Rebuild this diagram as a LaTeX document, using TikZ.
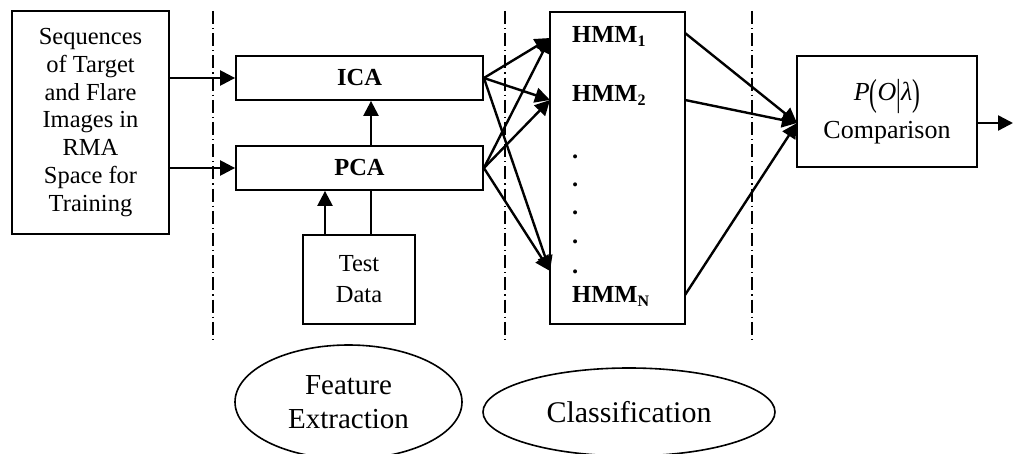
\documentclass[tikz,border=0pt]{standalone}
\usepackage{fontspec}
\setmainfont{Liberation Serif}
\usetikzlibrary{arrows.meta,shapes.geometric}
% lowered index for HMM labels
\newcommand\hmmidx[1]{\raisebox{-4pt}{\fontsize{16}{16}\selectfont #1}}
% stretched delimiter glyphs
\newcommand\tallglyph[1]{\raisebox{-0.2em}{\scalebox{0.9}[1.45]{#1}}}
\begin{document}
\begin{tikzpicture}[x=1pt,y=-1pt,
  box/.style={draw,line width=1.8pt,inner sep=0pt,align=center},
  plain/.style={font=\fontsize{24.5}{27.7}\selectfont},
  bold/.style={font=\fontsize{24.5}{27.7}\selectfont\bfseries},
  arr/.style={line width=2.4pt,-{Triangle[length=15pt,width=15pt]}},
  wire/.style={line width=2.4pt},
  sepline/.style={line width=1.5pt,dash pattern=on 13pt off 4pt on 1.2pt off 4pt},
  label/.style={ellipse,draw,line width=1.6pt,inner sep=0pt,align=center}]

\useasboundingbox (0,0) rectangle (1013,454);
\fill[white] (0,0) rectangle (1013,454);

% stage separators
\draw[sepline] (213,11) -- (213,343);
\draw[sepline] (505,11) -- (505,343);
\draw[sepline] (752,11) -- (752,343);

% blocks
\node[box,plain,minimum width=157,minimum height=223] (src) at (90.5,122.5)
  {Sequences\\of Target\\and Flare\\Images in\\RMA\\Space for\\Training};
\node[box,bold,minimum width=247,minimum height=44] (ica) at (359.5,78) {ICA};
\node[box,bold,minimum width=247,minimum height=44] (pca) at (359.5,168) {PCA};
\node[box,font=\fontsize{24.5}{31}\selectfont,minimum width=112,minimum height=89] (td) at (359,279.5) {Test\\Data};
\node[box,minimum width=135,minimum height=312] (hmm) at (617.5,168) {};
\node[box,font=\fontsize{26}{38}\selectfont,minimum width=180,minimum height=111] (comp) at (887,111.5)
  {\textit{P}\tallglyph{(}\textit{O}\tallglyph{|}\textit{λ}\tallglyph{)}\\Comparison};

% HMM bank contents
\node[bold,anchor=base west,inner sep=0pt] (h1) at (572,43) {HMM\hmmidx{1}};
\node[bold,anchor=base west,inner sep=0pt] (h2) at (572,102) {HMM\hmmidx{2}};
\foreach \y [count=\i] in {159,187,215,244,274}
  \node[bold,anchor=base west,inner sep=0pt] (dot\i) at (572,\y) {.};
\node[bold,anchor=base west,inner sep=0pt] (hN) at (572,303) {HMM\hmmidx{N}};

% stage labels
\node[label,font=\fontsize{29}{34}\selectfont,minimum width=227,minimum height=114] (fe) at (348.5,402) {Feature\\Extraction};
\node[label,font=\fontsize{30}{34}\selectfont,minimum width=292,minimum height=88] (cls) at (629,412) {Classification};

% connector end points on the HMM bank and comparison block
\coordinate (in1) at (550,38);
\coordinate (in2) at (550,100);
\coordinate (inN) at (550,271);
\coordinate (o1) at (685,33);
\coordinate (o2) at (685,100);
\coordinate (oN) at (685,295);
\coordinate (cin) at (797,123);
\coordinate (out) at (1013,123);

% feature extraction flow
\draw[arr] (src.east |- ica.west) -- (ica.west);
\draw[arr] (src.east |- pca.west) -- (pca.west);
\draw[arr] ([xshift=11.5pt]pca.north) -- ([xshift=11.5pt]ica.south);
\draw[arr] ([xshift=-34pt]td.north) -- ([xshift=-34pt]td.north |- pca.south);
\draw[wire] ([xshift=11.5pt]pca.south) -- ([xshift=11.5pt]pca.south |- td.north);

% features to every HMM
\foreach \s in {ica,pca}
  \foreach \t in {in1,in2,inN}
    \draw[arr] (\s.east) -- (\t);

% HMM scores to comparison
\draw[arr] (o1) -- (cin);
\draw[arr] (o2) -- (cin);
\draw[arr] (oN) -- (cin);
\draw[arr] (comp.east |- cin) -- (out);
\end{tikzpicture}
\end{document}
